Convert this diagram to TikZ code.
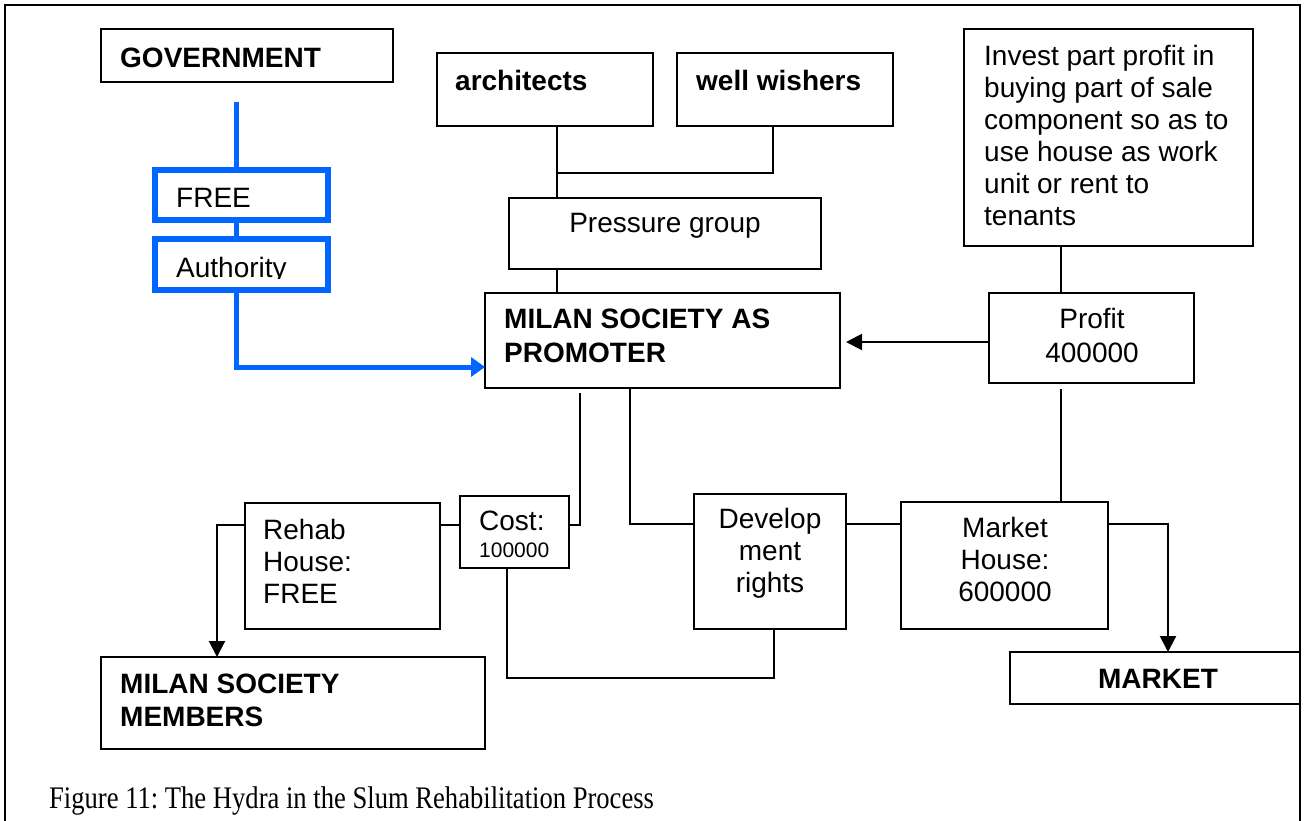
\documentclass[tikz,border=0pt]{standalone}
\usepackage{fontspec}
\usepackage{graphicx}
\setmainfont{Liberation Sans}
\newfontfamily\capfont{Liberation Serif}
\usetikzlibrary{arrows.meta}
\definecolor{fblue}{RGB}{0,102,255}
\frenchspacing
\newcommand\mybox[6][box]{\node[#1, minimum width={#5-#3}, minimum height={#6-#4}] (#2) at (#3,#4) {};}
\begin{document}
\begin{tikzpicture}[x=1pt,y=-1pt,
 box/.style={draw, line width=2pt, rectangle, inner sep=0pt, outer sep=0pt, anchor=north west},
 bbox/.style={draw=fblue, line width=5.5pt, rectangle, inner sep=0pt, outer sep=0pt, anchor=north west},
 conn/.style={line width=2pt},
 bconn/.style={draw=fblue, line width=5pt},
 arr/.style={-{Triangle[length=16pt,width=16pt]}},
 barr/.style={-{Triangle[length=14pt,width=19pt]}},
 txt/.style={inner sep=0pt, anchor=base west, font=\fontsize{28}{32}\selectfont},
 btxt/.style={inner sep=0pt, anchor=base west, font=\fontsize{28}{32}\selectfont\bfseries},
 ctxt/.style={inner sep=0pt, anchor=base, font=\fontsize{28}{32}\selectfont},
]
\useasboundingbox (0,0) rectangle (1306,820);
\draw[line width=1.7pt] (5,830) -- (5,5) -- (1300,5) -- (1300,830);

% boxes
\mybox{gov}{101}{29}{393}{82}
\mybox[bbox]{free}{155}{170}{328}{220}
\mybox[bbox]{auth}{155}{239}{328}{290}
\mybox{arch}{437}{53}{653}{126}
\mybox{well}{677}{53}{893}{126}
\mybox{press}{509}{198}{821}{269}
\mybox{milan}{485}{293}{840}{388}
\mybox{invest}{964}{29}{1253}{246}
\mybox{profit}{989}{293}{1194}{383}
\mybox{rehab}{245}{503}{440}{629}
\mybox{cost}{460}{496}{569}{568}
\mybox{dev}{694}{494}{846}{629}
\mybox{mhouse}{901}{502}{1108}{629}
\mybox{members}{101}{657}{485}{749}
\mybox{market}{1010}{652}{1300}{704}

% texts
\node[btxt] (tgov) at (120,67) {GOVERNMENT};
\node[txt] (tfree) at (176,207) {FREE};
\begin{scope}
\clip (150,240) rectangle (335,278);
\node[txt] (tauth) at (176,277) {Authority};
\end{scope}
\node[btxt] (tarch) at (455,90) {architects};
\node[btxt] (twell) at (696,90) {well wishers};
\node[ctxt] (tpress) at (665,232) {Pressure group};
\node[btxt] (tmil1) at (504,328) {MILAN SOCIETY AS};
\node[btxt] (tmil2) at (504,362) {PROMOTER};
\node[txt] (tinv1) at (984,65) {Invest part profit in};
\node[txt] (tinv2) at (984,97) {buying part of sale};
\node[txt] (tinv3) at (984,129) {component so as to};
\node[txt] (tinv4) at (984,161) {use house as work};
\node[txt] (tinv5) at (984,193) {unit or rent to};
\node[txt] (tinv6) at (984,225) {tenants};
\node[ctxt] (tprof1) at (1092,328) {Profit};
\node[ctxt] (tprof2) at (1092,362) {400000};
\node[txt] (treh1) at (263,539) {Rehab};
\node[txt] (treh2) at (263,571) {House:};
\node[txt] (treh3) at (263,603) {FREE};
\node[txt] (tcost1) at (479,530) {Cost:};
\node[inner sep=0pt, anchor=base west, font=\fontsize{21}{24}\selectfont] (tcost2) at (479,557) {100000};
\node[ctxt] (tdev1) at (770,528) {Develop};
\node[ctxt] (tdev2) at (770,560) {ment};
\node[ctxt] (tdev3) at (770,592) {rights};
\node[ctxt] (tmh1) at (1005,537) {Market};
\node[ctxt] (tmh2) at (1005,569) {House:};
\node[ctxt] (tmh3) at (1005,601) {600000};
\node[btxt] (tmem1) at (120,693) {MILAN SOCIETY};
\node[btxt] (tmem2) at (120,726) {MEMBERS};
\node[inner sep=0pt, anchor=base, font=\fontsize{28}{32}\selectfont\bfseries] (tmark) at (1158,688) {MARKET};
\node[inner sep=0pt, anchor=base west, font=\capfont\fontsize{26.6}{30}\selectfont] (cap) at (49,808) {\scalebox{1}[1.18]{Figure 11: The Hydra in the Slum Rehabilitation Process}};

% blue connectors
\coordinate (g0) at (236,102);
\coordinate (g1) at (236,367);
\draw[bconn] (g0) -- (free.north -| g0);
\draw[bconn] (free.south -| g0) -- (auth.north -| g0);
\draw[bconn,barr] (auth.south -| g0) -- (g1) -- (g1 -| milan.west);

% black connectors
\coordinate (j1) at (557,173);
\coordinate (j2) at (773,173);
\draw[conn] (arch.south -| j1) -- (press.north -| j1);
\draw[conn] (well.south -| j2) -- (j2) -- (j1);
\draw[conn] (press.south -| j1) -- (milan.north -| j1);
\coordinate (p1) at (1061,342);
\draw[conn] (invest.south -| p1) -- (profit.north -| p1);
\draw[conn,arr,shorten >=6pt] (profit.west |- p1) -- (milan.east |- p1);
\draw[conn,shorten <=6pt] (profit.south -| p1) -- (mhouse.north -| p1);
\coordinate (c1) at (580,525);
\draw[conn,shorten <=5pt] (milan.south -| c1) -- (c1) -- (c1 -| cost.east);
\coordinate (d1) at (630,524);
\draw[conn] (milan.south -| d1) -- (d1) -- (d1 -| dev.west);
\draw[conn] (rehab.east |- c1) -- (cost.west |- c1);
\coordinate (r1) at (217,525);
\draw[conn,arr] (rehab.west |- r1) -- (r1) -- (r1 |- members.north);
\coordinate (e1) at (507,678);
\coordinate (e2) at (774,678);
\draw[conn] (cost.south -| e1) -- (e1) -- (e2) -- (dev.south -| e2);
\draw[conn] (dev.east |- d1) -- (mhouse.west |- d1);
\coordinate (m1) at (1168,524);
\draw[conn,arr] (mhouse.east |- m1) -- (m1) -- (m1 |- market.north);
\end{tikzpicture}
\end{document}
